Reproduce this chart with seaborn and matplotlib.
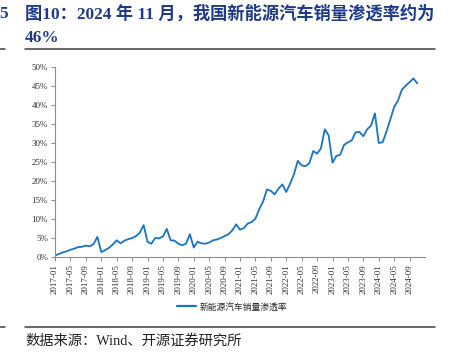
import matplotlib
matplotlib.use("Agg")
import matplotlib.pyplot as plt
from matplotlib.lines import Line2D
import seaborn as sns
import pandas as pd
import numpy as np

months = [f"{y}-{m:02d}" for y in range(2017, 2025) for m in range(1, 13)][:95]

penetration = [
    # 2017
    0.4, 0.8, 1.2, 1.5, 1.9, 2.2, 2.6, 2.7, 3.0, 2.8, 3.4, 5.3,
    # 2018
    1.3, 1.8, 2.4, 3.3, 4.4, 3.6, 4.3, 4.7, 5.0, 5.5, 6.4, 8.4,
    # 2019
    4.0, 3.5, 5.0, 4.9, 5.4, 7.4, 4.4, 4.3, 3.5, 3.1, 3.5, 6.0,
    # 2020
    2.5, 4.0, 3.6, 3.5, 3.8, 4.4, 4.6, 5.0, 5.5, 6.0, 7.0, 8.6,
    # 2021
    7.2, 7.6, 8.8, 9.2, 10.1, 12.6, 14.6, 17.8, 17.4, 16.5, 18.0, 19.1,
    # 2022
    17.1, 19.3, 21.8, 25.3, 24.1, 23.9, 24.7, 27.9, 27.2, 28.6, 33.6, 32.0,
    # 2023
    24.8, 26.6, 26.9, 29.5, 30.2, 30.7, 32.8, 32.9, 31.8, 33.6, 34.6, 37.8,
    # 2024
    30.0, 30.2, 33.0, 36.2, 39.5, 41.2, 44.0, 45.1, 46.0, 47.0, 45.7,
]

series_name = "新能源汽车销量渗透率"
tick_labels = months[::4]

df = pd.DataFrame({"idx": np.arange(len(months)), "value": np.array(penetration) / 100.0,
                   "series": series_name})

sns.set_theme(style="white")
plt.rcParams['font.family'] = ['Liberation Serif', 'Noto Sans CJK SC']

W, H = 449, 353
fig = plt.figure(figsize=(W / 100, H / 100), dpi=100)
ax = fig.add_axes([55 / W, 1 - 257 / H, (425 - 55) / W, (257 - 67) / H])

sns.lineplot(data=df, x="idx", y="value", hue="series", palette=["#1874C6"],
             linewidth=1.3, ax=ax, legend=True)

ax.set_xlim(0, 96)
ax.set_ylim(0, 0.5)
ax.set_yticks(np.arange(0, 0.51, 0.05))
ax.set_yticklabels([f"{int(round(v*100))}%" for v in np.arange(0, 0.51, 0.05)],
                   fontsize=6.5, color="#333333")
ax.set_xticks(np.arange(0, len(months), 4))
ax.set_xticklabels(tick_labels, rotation=90, fontsize=6.5, color="#333333")
ax.set_xlabel("")
ax.set_ylabel("")
for s in ["top", "right"]:
    ax.spines[s].set_visible(False)
for s in ["left", "bottom"]:
    ax.spines[s].set_color("#8C8C8C")
    ax.spines[s].set_linewidth(0.8)
ax.tick_params(axis="both", which="both", direction="out", length=3, width=0.7,
               color="#8C8C8C", pad=2)
ax.tick_params(axis="y", left=True)
ax.tick_params(axis="x", bottom=True)
ax.grid(False)

leg = ax.legend(loc="center", bbox_to_anchor=(232 / W, 1 - 307 / H),
                bbox_transform=fig.transFigure, frameon=False,
                prop={"family": ["Noto Sans CJK SC"], "size": 6.3},
                handlelength=2.2, handletextpad=0.4)
for h in leg.get_lines():
    h.set_linewidth(1.6)

title_color = "#1E3A86"
fig.text(25 / W, 1 - 14 / H, "图10：2024 年 11 月，我国新能源汽车销量渗透率约为",
         fontsize=12.4, fontweight="bold", color=title_color, va="center", ha="left",
         family=["Liberation Serif", "Noto Sans CJK SC"])
fig.text(25 / W, 1 - 38 / H, "46%", fontsize=12.4, fontweight="bold",
         color=title_color, va="center", ha="left",
         family=["Liberation Serif", "Noto Sans CJK SC"])
fig.text(-1 / W, 1 - 14 / H, "5", fontsize=12.4, fontweight="bold",
         color=title_color, va="center", ha="left", family=["Liberation Serif"])

fig.add_artist(Line2D([25 / W, 435 / W], [1 - 49 / H] * 2, color="#404040", lw=1.1))
fig.add_artist(Line2D([0, 5 / W], [1 - 49 / H] * 2, color="#404040", lw=1.1))
fig.add_artist(Line2D([25 / W, 435 / W], [1 - 327 / H] * 2, color="#404040", lw=1.1))
fig.add_artist(Line2D([0, 5 / W], [1 - 327 / H] * 2, color="#404040", lw=1.1))

fig.text(25 / W, 1 - 341 / H, "数据来源：Wind、开源证券研究所", fontsize=10.3,
         color="#222222", va="center", ha="left",
         family=["Liberation Serif", "Noto Sans CJK SC"])

fig.savefig("out.png", dpi=100)
